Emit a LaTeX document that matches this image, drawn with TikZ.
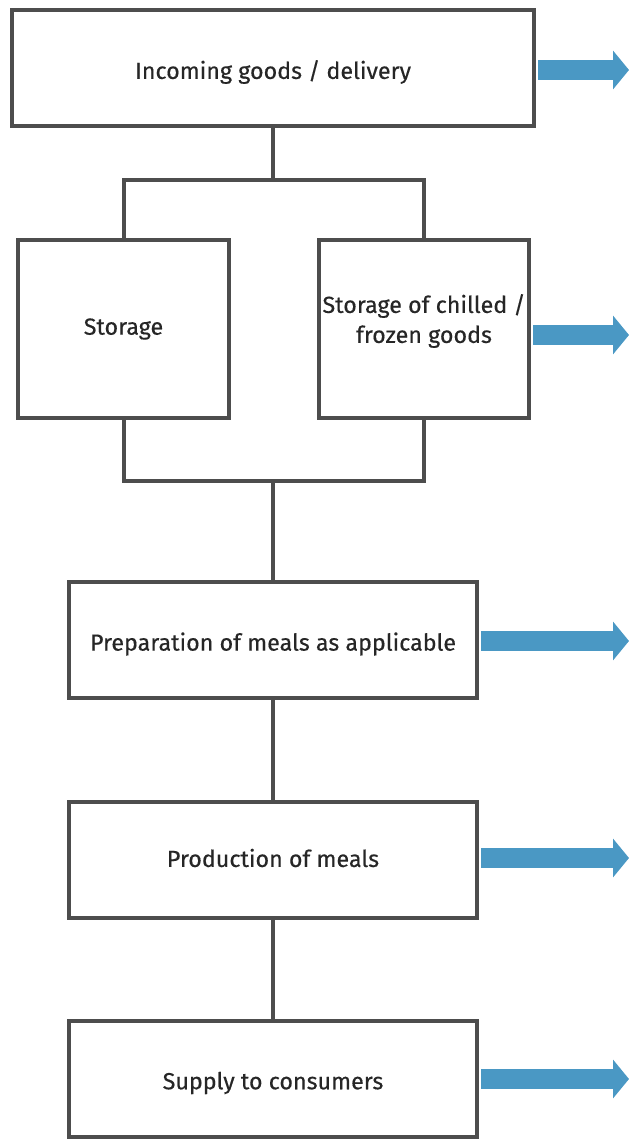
\documentclass[tikz,border=0pt]{standalone}
\usepackage{fontspec}
\setmainfont{Fira Sans}[FakeBold=0.35]
\usetikzlibrary{arrows.meta}

\definecolor{boxgray}{HTML}{4D4D4D}
\definecolor{flowblue}{HTML}{4A98C4}

\newcommand{\lowered}[2]{\raisebox{#1}[\height][\depth]{#2}}

\tikzset{
  stagetext/.style={align=center, text=black!85,
    font=\fontsize{23.3}{30}\selectfont, inner sep=1pt},
  stage/.style={stagetext, draw=boxgray, line width=4pt, fill=white},
  link/.style={draw=boxgray, line width=4pt},
  outflow/.style={draw=flowblue, line width=20pt,
    -{Triangle[length=16pt,width=38pt]}}
}

\begin{document}
\begin{tikzpicture}[x=1pt,y=-1pt]
\useasboundingbox (0,0) rectangle (629,1139);
% process stages
\node[stage, minimum width=522pt, minimum height=116pt] (incoming) at (273,68) {\lowered{-4pt}{Incoming goods / delivery}};
\node[stage, minimum width=211pt, minimum height=178pt] (storage) at (123.5,329) {Storage};
\node[stage, minimum width=210pt, minimum height=178pt] (chilled) at (424,329) {};
\node[stagetext] (chilledtext) at ([yshift=8pt]chilled.center) {Storage of chilled /\\frozen goods};
\node[stage, minimum width=408pt, minimum height=116pt] (prep) at (273,640) {\lowered{-4pt}{Preparation of meals as applicable}};
\node[stage, minimum width=408pt, minimum height=116pt] (production) at (273,860) {\lowered{2pt}{Production of meals}};
\node[stage, minimum width=408pt, minimum height=116pt] (supply) at (273,1079) {\lowered{-4pt}{Supply to consumers}};
\coordinate (split) at (273,180);
\coordinate (join) at (273,481);
% connectors
\draw[link] (incoming) -- (split);
\draw[link] (split) -| (storage);
\draw[link] (split) -| (chilled);
\draw[link] (storage) |- (join) -| (chilled);
\draw[link] (join) -- (prep);
\draw[link] (prep) -- (production);
\draw[link] (production) -- (supply);
% outgoing arrows
\foreach \s/\dy in {incoming/-2,chilled/-6,prep/-1,production/2,supply/0}{
  \coordinate (\s-in) at ([xshift=2pt,yshift=\dy pt]\s.east);
  \coordinate (\s-out) at (629,0 |- \s-in);
  \draw[outflow] (\s-in) -- (\s-out);
}
\end{tikzpicture}
\end{document}
